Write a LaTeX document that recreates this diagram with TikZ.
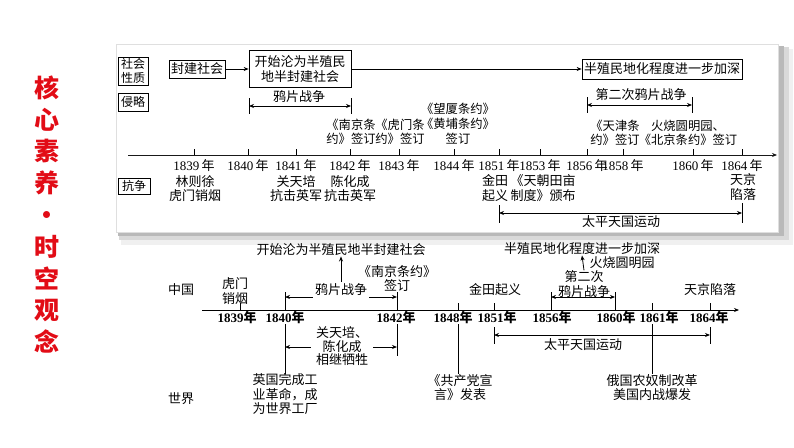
\documentclass[tikz,border=0pt]{standalone}
\usepackage{fontspec}
\setmainfont{Liberation Serif}
\newfontfamily\cjk{Noto Sans CJK SC}
\usetikzlibrary{arrows.meta,positioning,calc}
\definecolor{titlered}{RGB}{226,12,22}

\tikzset{
        txt/.style={font=\cjk\fontsize{13}{14.5}\selectfont, inner sep=0pt, align=center},
        treaty/.style={txt, font=\cjk\fontsize{12.3}{14.5}\selectfont},
        boxed/.style={txt, draw, line width=0.7pt},
        yearlbl/.style={font=\fontsize{13}{14}\selectfont, inner sep=0pt},
        byearlbl/.style={font=\bfseries\fontsize{13}{14}\selectfont, inner sep=0pt},
        tip/.style={-{Stealth[length=5pt,width=4pt]}},
        both/.style={{Stealth[length=5pt,width=4pt]}-{Stealth[length=5pt,width=4pt]}},
        redtitle/.style={font=\cjk\bfseries\fontsize{25}{31.8}\selectfont, text=titlered, align=center, inner sep=0pt},
}

\begin{document}
\begin{tikzpicture}[x=1pt,y=-1pt,line width=0.8pt]
        \useasboundingbox (0,0) rectangle (794,447);
        \fill[white] (0,0) rectangle (794,447);

        \node[redtitle] (title) at (47,214.5) {核\\心\\素\\养\\·\\时\\空\\观\\念};

        % panel
        \fill[gray!12] (121,49) rectangle (793,245);
        \fill[gray!30] (119,47) rectangle (789,240);
        \fill[gray!55] (118,46) rectangle (784,236);
        \fill[white,draw=gray!25,line width=0.4pt] (116,44) rectangle (778,232);

        \node[boxed, minimum width=30pt, minimum height=28pt, font=\cjk\fontsize{12}{13.5}\selectfont] (shehui) at (133,71) {社会\\性质};
        \node[boxed, minimum width=30pt, minimum height=18pt, font=\cjk\fontsize{12}{13.5}\selectfont] (qinlue) at (133,102) {侵略};
        \node[boxed, minimum width=32pt, minimum height=16pt, font=\cjk\fontsize{12}{13.5}\selectfont] (kangzheng) at (134,186) {抗争};

        \node[boxed, minimum width=56pt, minimum height=18pt] (feng) at (197,69) {封建社会};
        \node[boxed, minimum width=102pt, minimum height=37pt] (kaishi) at (300,69) {开始沦为半殖民\\地半封建社会};
        \node[boxed, minimum width=160pt, minimum height=20pt] (jiashen) at (662,69) {半殖民地化程度进一步加深};
        \draw[tip] (feng.east) -- (kaishi.west);
        \draw[tip] (kaishi.east) -- (jiashen.west);

        \coordinate (ya1) at (249,106);
        \coordinate (ya2) at (351,106);
        \coordinate (er1) at (587,105);
        \coordinate (er2) at (692,105);
        \foreach \c in {ya1,ya2,er1,er2}
                \draw ([yshift=8pt]\c) -- ([yshift=-8pt]\c);
        \draw[both] (ya1) -- (ya2);
        \draw[both] (er1) -- (er2);
        \node[txt] (yapian) at (299,97) {鸦片战争};
        \node[txt] (dierci) at (641,95) {第二次鸦片战争};

        \node[treaty] (nanjing) at (351,132) {《南京条\\约》签订};
        \node[treaty] (humen) at (400,132) {《虎门条\\约》签订};
        \node[treaty, font=\cjk\fontsize{12.3}{15}\selectfont] (wangxia) at (458,124) {《望厦条约》\\《黄埔条约》\\签订};
        \node[treaty] (tianjin) at (615,133) {《天津条\\约》签订};
        \node[treaty] (beijing) at (688,133) {火烧圆明园、\\《北京条约》签订};

        % upper time line
        \coordinate (ua) at (128,155);
        \coordinate (ub) at (777,155);
        \draw[tip, gray!20!black] (ua) -- (ub);
        \foreach \x/\yr in {194/1839,248/1840,296/1841,350/1842,399/1843,454/1844,499/1851,540/1853,587/1856,623/1858,693/1860,742/1864}{
                \draw (\x,149) -- (\x,155);
                \node[yearlbl] (u\yr) at (\x,166) {\yr\,{\cjk 年}};
        }

        \node[txt] (linzexu) at (195,188.5) {林则徐\\虎门销烟};
        \node[txt] (guan) at (296,188.5) {关天培\\抗击英军};
        \node[txt] (chen) at (350,188.5) {陈化成\\抗击英军};
        \node[txt] (jintian) at (495,188) {金田\\起义};
        \node[txt] (tianchao) at (543,188) {《天朝田亩\\制度》颁布};
        \node[txt] (tianjing) at (743,187) {天京\\陷落};

        \coordinate (tp1) at (499,213);
        \coordinate (tp2) at (742,213);
        \draw (499,205) -- (499,223);
        \draw (742,203) -- (742,223);
        \draw[both] (tp1) -- (tp2);
        \node[txt] (taiping) at (621,222) {太平天国运动};

        % lower time line
        \node[txt] (zhongguo) at (181,290) {中国};
        \node[txt] (shijie) at (181,399) {世界};

        \coordinate (la) at (202,310);
        \coordinate (lb) at (739,310);
        \draw[tip, line width=1pt] (la) -- (lb);
        \foreach \x in {240,458,494,652,710}
                \draw[line width=1pt] (\x,303) -- (\x,310);
        \foreach \x in {285,397,551,615}
                \draw[line width=1pt] (\x,292) -- (\x,310);
        \foreach \x/\yr in {237/1839,285/1840,396/1842,453/1848,497/1851,552/1856,616/1860,659/1861,709/1864}
                \node[byearlbl] (l\yr) at (\x,318) {\yr{\cjk\bfseries 年}};

        \node[txt] (humen2) at (235,291) {虎门\\销烟};
        \node[txt] (kaishi2) at (341,250) {开始沦为半殖民地半封建社会};
        \node[txt] (nanjing2) at (397,278.5) {《南京条约》\\签订};
        \node[txt] (jintian2) at (495,290) {金田起义};
        \node[txt] (jiashen2) at (582,249) {半殖民地化程度进一步加深};
        \node[txt] (dierci2) at (584,284) {第二次\\鸦片战争};
        \node[txt] (huoshao) at (622,263) {火烧圆明园};
        \node[txt] (tianjing2) at (710,290) {天京陷落};

        \coordinate (lya1) at (285,297);
        \coordinate (lya2) at (397,297);
        \draw[both] (lya1) -- (lya2);
        \node[txt, fill=white, inner xsep=2pt, inner ysep=2pt] (yapian2) at (341,290) {鸦片战争};
        \draw[tip] (yapian2.north) -- (kaishi2.south);

        \coordinate (ler1) at (551,297);
        \coordinate (ler2) at (615,297);
        \draw[both] (ler1) -- (ler2);
        \draw[tip] (dierci2.north) -- (jiashen2.south);

        \coordinate (k1840) at (285,324);
        \coordinate (k1842) at (397,324);
        \coordinate (k1848) at (458,324);
        \coordinate (k1861) at (652,324);
        \draw[line width=1pt] (k1842) -- (397,356);
        \coordinate (lgu1) at (285,347);
        \coordinate (lgu2) at (397,347);
        \draw[both] (lgu1) -- (lgu2);
        \node[txt, fill=white, inner xsep=5pt, inner ysep=1pt, font=\cjk\fontsize{13}{13.5}\selectfont] (xiangji) at (342,346.5) {关天培、\\陈化成\\相继牺牲};

        \node[txt] (yingguo) at (285,394.5) {英国完成工\\业革命，成\\为世界工厂};
        \node[txt] (gongchan) at (460,387.5) {《共产党宣\\言》发表};
        \node[txt] (eguo) at (652,387.5) {俄国农奴制改革\\美国内战爆发};
        \draw[line width=1pt] (k1840) -- (k1840 |- yingguo.north);
        \draw[line width=1pt] (k1848) -- (k1848 |- gongchan.north);
        \draw[line width=1pt] (k1861) -- (k1861 |- eguo.north);

        \coordinate (ltp1) at (494,335);
        \coordinate (ltp2) at (710,335);
        \foreach \c in {ltp1,ltp2}
                \draw[line width=1pt] ([yshift=8pt]\c) -- ([yshift=-9pt]\c);
        \draw[both] (ltp1) -- (ltp2);
        \node[txt] (taiping2) at (583,344.5) {太平天国运动};

\end{tikzpicture}
\end{document}
